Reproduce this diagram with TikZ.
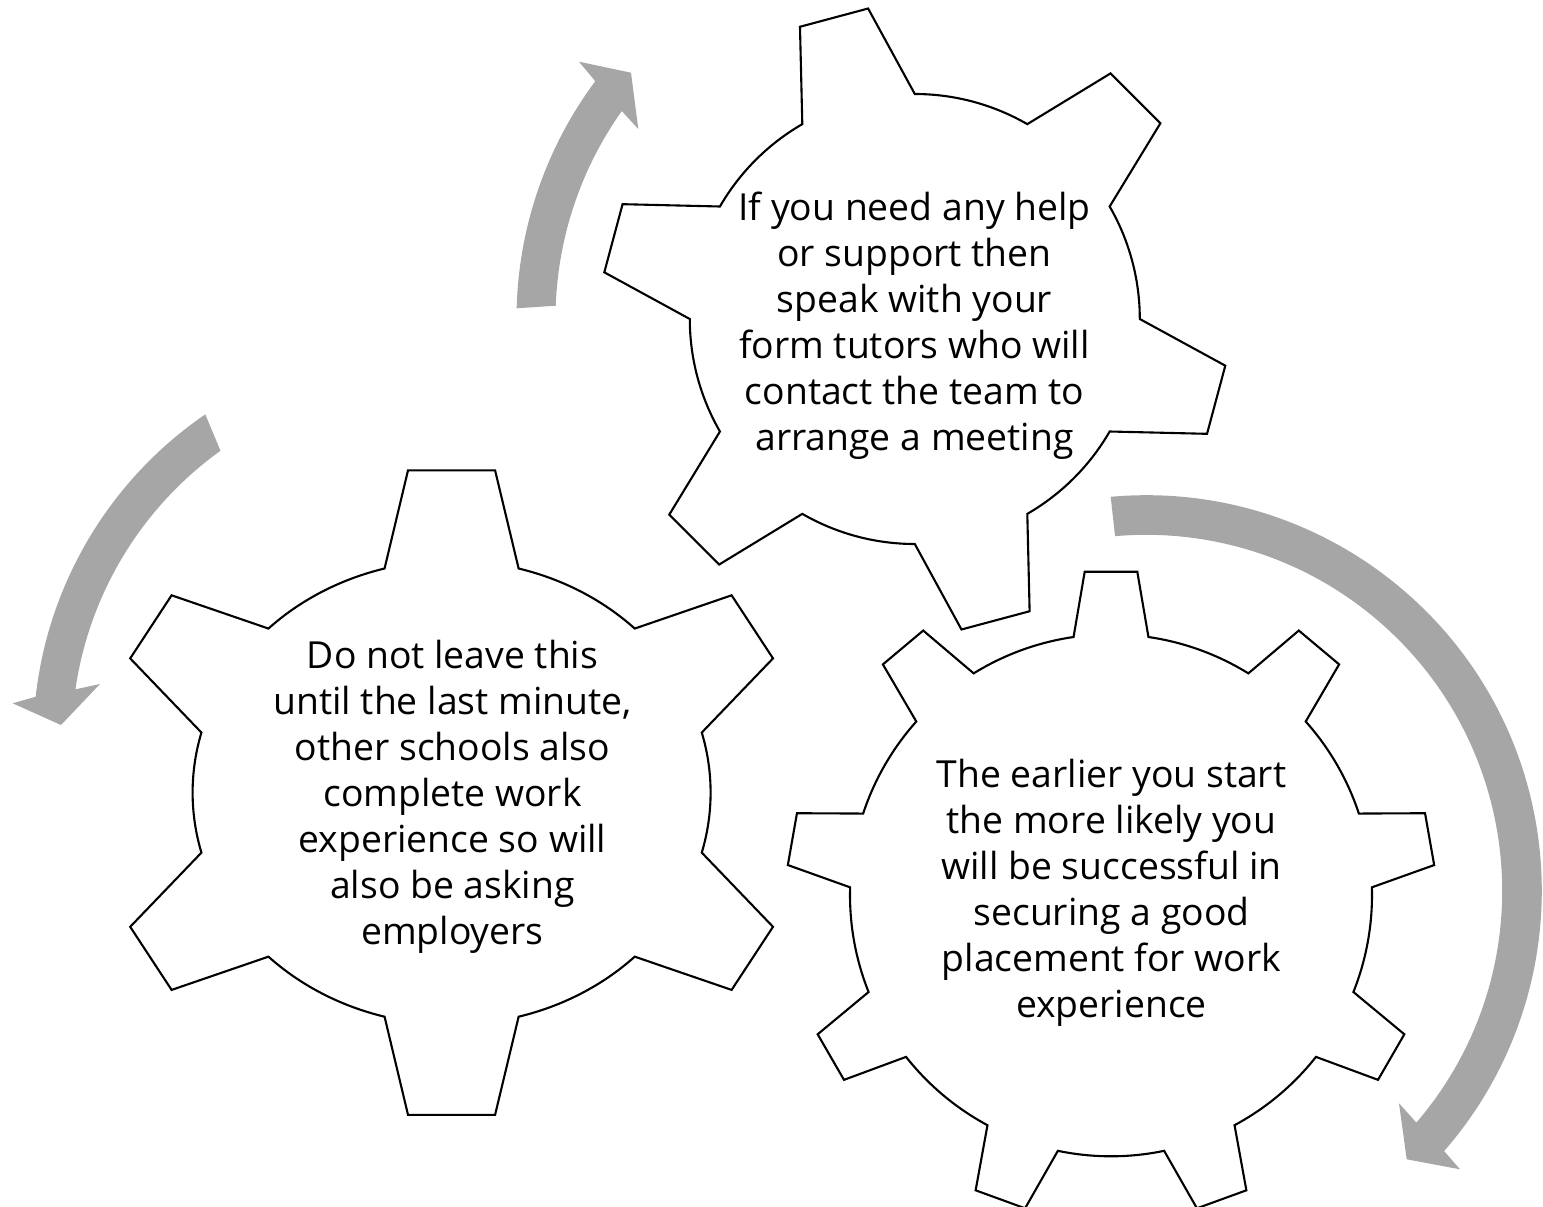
\documentclass[tikz,border=0pt]{standalone}
\usepackage{fontspec}
\setmainfont{Open Sans}
\definecolor{arrowgray}{RGB}{166,166,166}
\tikzset{
  gearline/.style={draw=black, line width=2.1pt, fill=white, line join=miter},
  bigarrow/.style={fill=arrowgray, draw=none},
  geartext/.style={align=center, font=\fontsize{37.3}{46}\selectfont, inner sep=0pt, text=black},
}
\begin{document}
\begin{tikzpicture}[x=1pt,y=1pt]
\useasboundingbox (0,0) rectangle (1543,-1207);

% ---------- curved arrows ----------
\begin{scope}[shift={(915,-319)}]
  \fill[bigarrow] (178.46:398.5) arc[start angle=178.46, end angle=143.36, radius=398.5]
    -- (-336,257.3) -- (-284,246.3) -- (-276.7,190)
    -- (144.66:359.5) arc[start angle=144.66, end angle=177.88, radius=359.5] -- cycle;
\end{scope}
\begin{scope}[shift={(428.7,-740.7)}]
  \fill[bigarrow] (124.4:395.5) arc[start angle=124.4, end angle=173.62, radius=395.5]
    -- (-416,37.4) -- (-367.7,15.7) -- (-328.7,56.7)
    -- (171.73:357) arc[start angle=171.73, end angle=125.68, radius=357] -- cycle;
\end{scope}
\begin{scope}[shift={(1146.2,-890.8)}]
  \fill[bigarrow] (95.15:395.6) arc[start angle=95.15, end angle=-41.14, radius=395.6]
    -- (313.8,-278.5) -- (260.5,-268.5) -- (252.8,-212.5)
    -- (-40.63:356) arc[start angle=-40.63, end angle=95.02, radius=356] -- cycle;
\end{scope}

% ---------- gear 1 (top) ----------
\begin{scope}[shift={(914.8,-319)}]
  \draw[gearline] (120:225)
    \foreach \p in {105,45,-15,-75,-135,-195}{
      -- ({\p+6.45}:314) -- ({\p-6.45}:314) -- ({\p-15}:225)
      arc[start angle={\p-15}, end angle={\p-45}, radius=225]
    } -- cycle;
\end{scope}

% ---------- gear 2 (left) ----------
\begin{scope}[shift={(451.6,-792.6)}]
  \draw[gearline] (105:259 and 232)
    -- (-43.6,322.2) -- (43.5,322.2) -- (75:259 and 232)
    arc[start angle=75, end angle=45, x radius=259, y radius=232]
    -- (280,197.3) -- (321.4,134.2) -- (15:259 and 232)
    arc[start angle=15, end angle=-15, x radius=259, y radius=232]
    -- (321.4,-134.2) -- (280,-197.3) -- (-45:259 and 232)
    arc[start angle=-45, end angle=-75, x radius=259, y radius=232]
    -- (43.5,-322.2) -- (-43.6,-322.2) -- (-105:259 and 232)
    arc[start angle=-105, end angle=-135, x radius=259, y radius=232]
    -- (-280,-197.3) -- (-321.4,-134.2) -- (-165:259 and 232)
    arc[start angle=-165, end angle=-195, x radius=259, y radius=232]
    -- (-321.4,134.2) -- (-280,197.3) -- (135:259 and 232)
    arc[start angle=135, end angle=105, x radius=259, y radius=232]
    -- cycle;
\end{scope}

% ---------- gear 3 (right) ----------
\begin{scope}[shift={(1111,-895.3)}]
  \draw[gearline] (98.25:261)
    \foreach \p in {90,50,10,-30,-70,-110,-150,-190,-230}{
      -- ({\p+4.65}:324.6) -- ({\p-4.65}:324.6) -- ({\p-8.25}:261)
      arc[start angle={\p-8.25}, end angle={\p-31.75}, radius=261]
    } -- cycle;
\end{scope}

% ---------- texts ----------
\node[geartext] (t1) at (914.5,-326) {If you need any help\\or support then\\speak with your\\form tutors who will\\contact the team to\\arrange a meeting};
\node[geartext] (t2) at (452.5,-797) {Do not leave this\\until the last minute,\\other schools also\\complete work\\experience so will\\also be asking\\employers};
\node[geartext] (t3) at (1111.5,-892.5) {The earlier you start\\the more likely you\\will be successful in\\securing a good\\placement for work\\experience};
\end{tikzpicture}
\end{document}
